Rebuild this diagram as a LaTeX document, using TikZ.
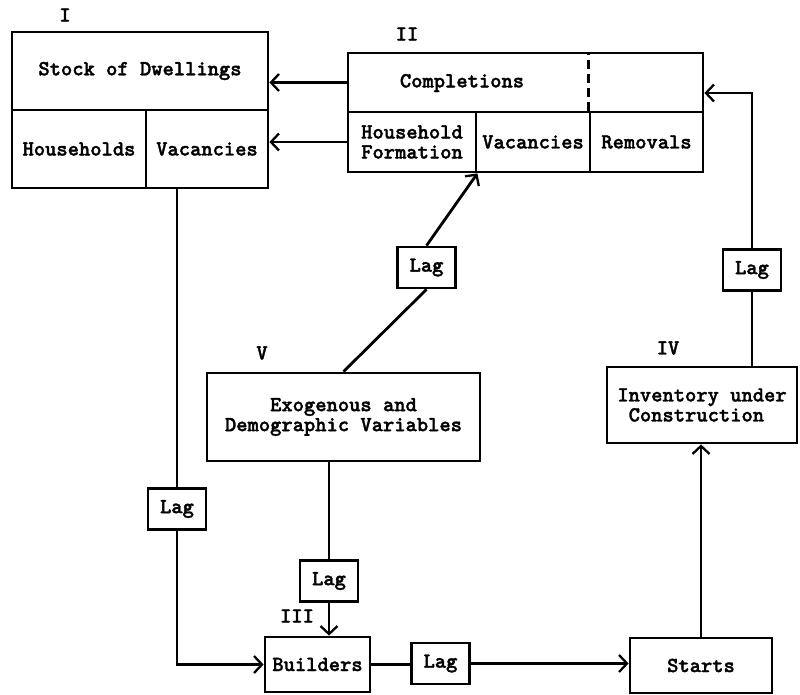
\documentclass[tikz,border=0pt]{standalone}
\usepackage{fontspec}
\setmonofont{lmmonolt10-bold.otf}[BoldFont=lmmonolt10-bold.otf, BoldFeatures={FakeBold=1.6}]
\usetikzlibrary{arrows.meta}
\begin{document}
\begin{tikzpicture}[x=1pt,y=-1pt,
  every node/.style={font=\ttfamily\bfseries\fontsize{21.5}{20}\selectfont, inner sep=0pt},
  cell/.style={draw, line width=2.8pt, align=center},
  lagbox/.style={draw, line width=2.8pt, minimum width=58pt, minimum height=41pt},
  ln/.style={line width=2.8pt},
  arr/.style={line width=2.8pt, -{Straight Barb[length=8pt,width=17pt,line width=2.3pt]}}]
\useasboundingbox (0,0) rectangle (800,695);

% I: stock of dwellings
\node[cell, minimum width=256pt, minimum height=78pt] (stocktop) at (140,71) {Stock of Dwellings};
\node[cell, minimum width=134pt, minimum height=78pt] (hh) at (79,149) {Households};
\node[cell, minimum width=122pt, minimum height=78pt] (vac1) at (207,149) {Vacancies};
\node (labI) at (65,15) {I};

% II: completions
\node[cell, minimum width=355pt, minimum height=59pt] (compl) at (525.5,82.5) {};
\node (compltxt) at (462,83) {Completions};
\node[cell, minimum width=128pt, minimum height=60pt] (hhf) at (412,142) {Household\\Formation};
\node[cell, minimum width=114pt, minimum height=60pt] (vac2) at (533,142) {Vacancies};
\node[cell, minimum width=113pt, minimum height=60pt] (rem) at (646.5,142) {Removals};
\draw[line width=2.4pt, dash pattern=on 9pt off 5pt] (rem.north west) -- (rem.north west |- compl.north);
\node (labII) at (407,34) {II};

% V: exogenous variables
\node[cell, minimum width=273pt, minimum height=88pt] (exo) at (343.5,417) {Exogenous and\\Demographic Variables};
\node (labV) at (262,353) {V};

% IV: inventory
\node[cell, minimum width=190pt, minimum height=76pt, align=left] (inv) at (702,405) {Inventory under\\\ Construction};
\node (labIV) at (668,348) {IV};

% III: builders, and starts
\node[cell, minimum width=105pt, minimum height=55pt] (builders) at (317.5,664.5) {Builders};
\node (labIII) at (297,616) {III};
\node[cell, minimum width=142pt, minimum height=55pt] (starts) at (701,665.5) {Starts};

% lags
\node[lagbox] (lag1) at (177,509) {Lag};
\node[lagbox] (lag3) at (329,581) {Lag};
\node[lagbox] (lag2) at (440.5,663.5) {Lag};
\node[lagbox] (lag5) at (426.5,267.5) {Lag};
\node[lagbox] (lag4) at (752,270) {Lag};

% connectors
\draw[arr] (compl.west) -- (compl.west -| stocktop.east);
\draw[arr] (hhf.west) -- (hhf.west -| vac1.east);
\draw[ln] (vac1.south -| lag1.north) -- (lag1.north);
\draw[arr] (lag1.south) |- (builders.west);
\draw[ln] (exo.south -| lag3.north) -- (lag3.north);
\draw[arr] (lag3.south) -- (lag3.south |- builders.north);
\draw[ln] (builders.east) -- (builders.east -| lag2.west);
\draw[arr] (lag2.east) -- (lag2.east -| starts.west);
\draw[arr] (starts.north) -- (starts.north |- inv.south);
\draw[ln] (lag4.south) -- (lag4.south |- inv.north);
\draw[arr] (lag4.north) |- ([yshift=-10.5pt]compl.east);
\draw[ln] (exo.north) -- (lag5.south);
\draw[arr] (lag5.north) -- (hhf.south east);
\end{tikzpicture}
\end{document}
